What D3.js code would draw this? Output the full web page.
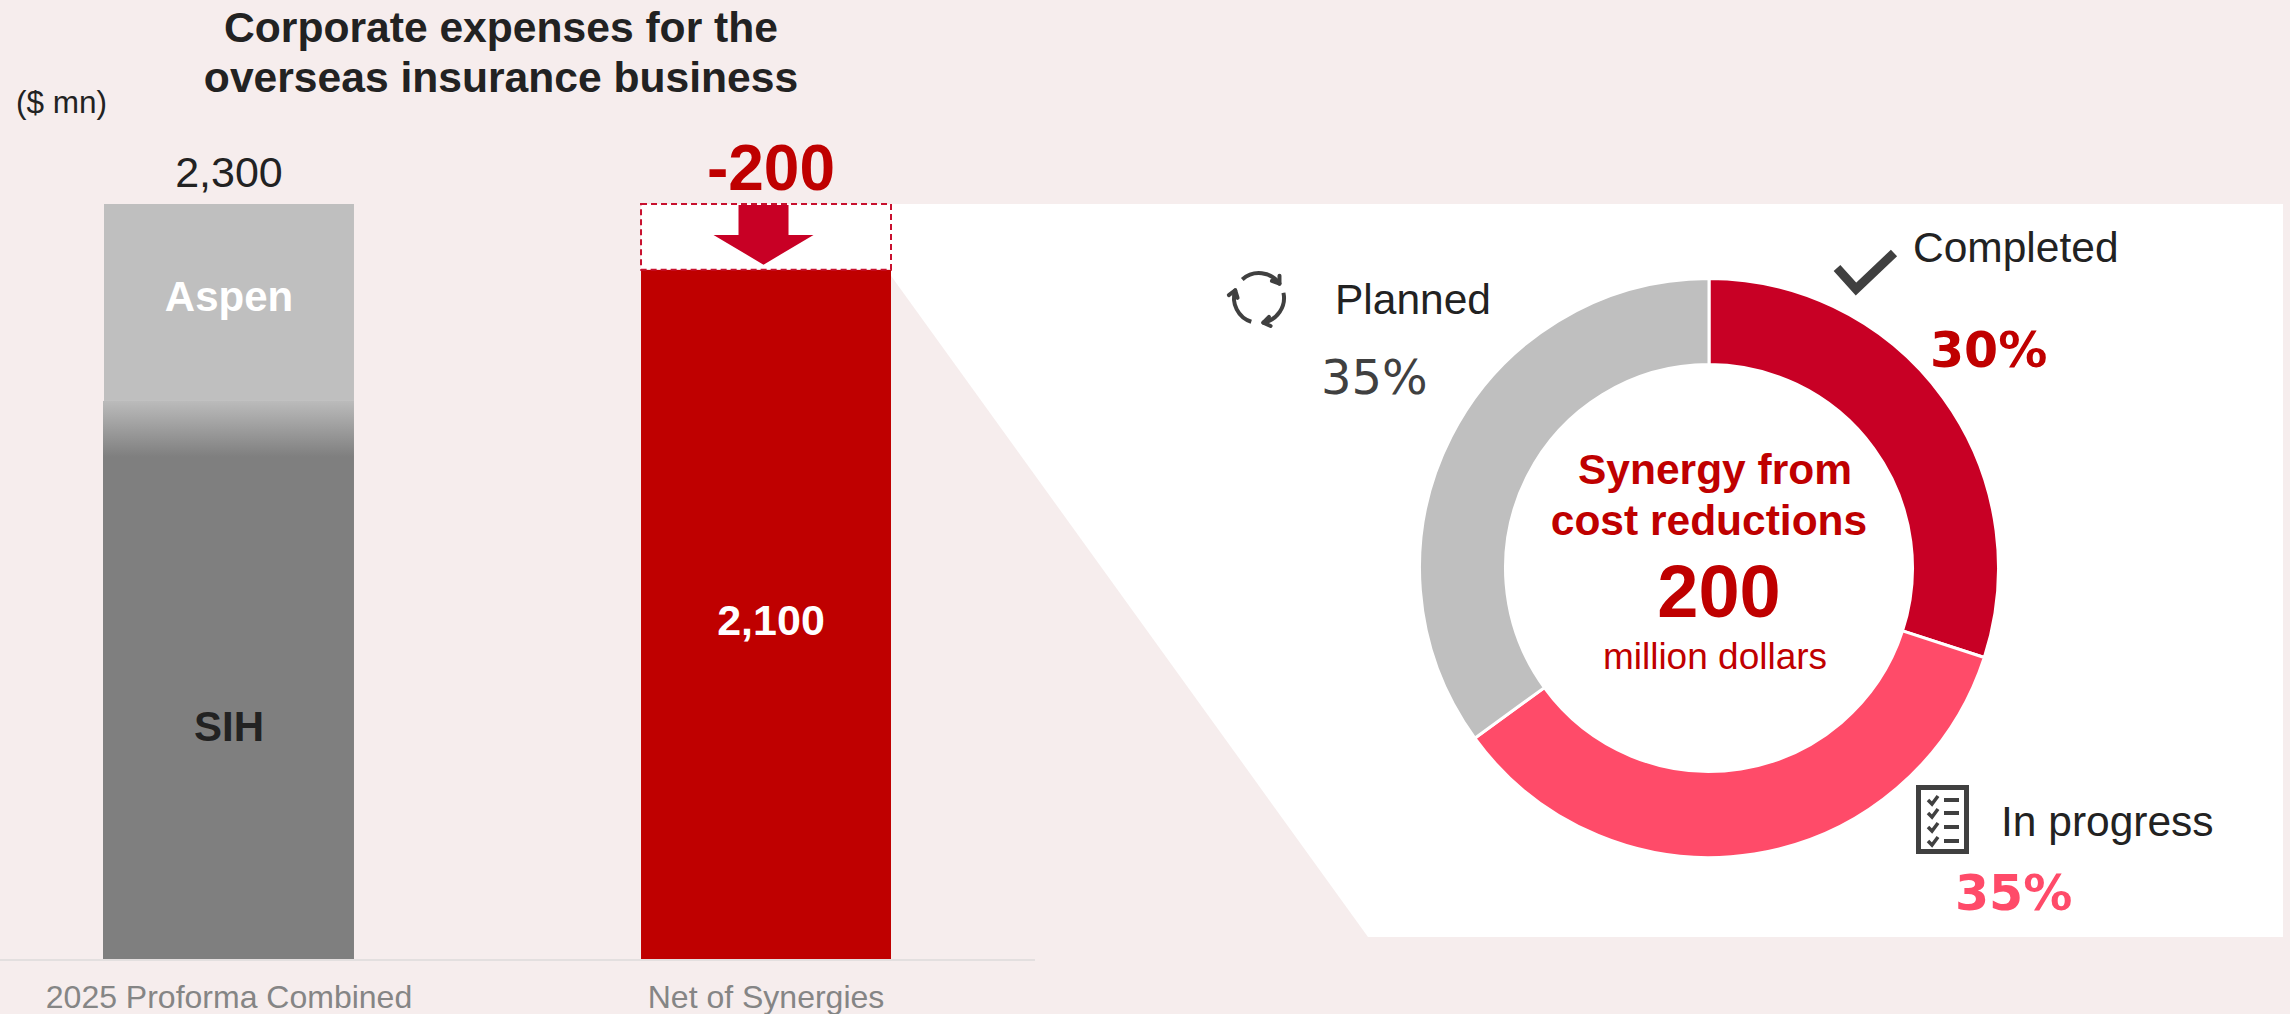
<!DOCTYPE html>
<html>
<head>
<meta charset="utf-8">
<script src="https://cdn.jsdelivr.net/npm/d3@7/dist/d3.min.js"></script>
<style>
html,body{margin:0;padding:0;background:#f6eded;}
svg{display:block;}
text{font-family:"Liberation Sans",Arial,sans-serif;}
</style>
</head>
<body>
<svg id="chart" width="2290" height="1014"></svg>
<script>
// Expense bars
const barCategories = ["2025 Proforma Combined", "Net of Synergies"];
const sihExpense = [1700];
const aspenExpense = [600];
const netExpense = [2100];
const synergyAmount = [200];
// Progress of the cost reductions
const statusNames = ["Completed", "In progress", "Planned"];
const statusShares = [30, 35, 35];
const statusColors = ["#c80025", "#ff4b69", "#bfbfbf"];

const combinedTotal = sihExpense[0] + aspenExpense[0];
const svg = d3.select("#chart");
const fmt = d3.format(",");

const x = d3.scaleBand().domain(barCategories).range([104, 891]).paddingInner(0.5345).paddingOuter(0);
const y = d3.scaleLinear().domain([0, combinedTotal]).range([959, 204]);
const bw = x.bandwidth();
const x0 = x(barCategories[0]);
const x1 = x(barCategories[1]);

function label(txt, px, py, size, opts = {}) {
  return svg.append("text")
    .attr("x", px).attr("y", py)
    .attr("font-size", size)
    .attr("font-weight", opts.bold ? 700 : 400)
    .attr("fill", opts.fill || "#222222")
    .attr("text-anchor", opts.anchor || "middle")
    .style("font-family", opts.family || null)
    .text(txt);
}

// White callout panel behind the donut, joined to the synergy slice of the bar
svg.append("path")
  .attr("d", d3.line()([
    [x1 + bw, y(combinedTotal)], [2283, y(combinedTotal)], [2283, 937], [1368, 937],
    [x1 + bw, y(netExpense[0]) + 6]
  ]) + "Z")
  .attr("fill", "#ffffff");

// Stacked bar: SIH fades up into the Aspen segment
const defs = svg.append("defs");
const fade = defs.append("linearGradient").attr("id", "sihFade")
  .attr("x1", 0).attr("x2", 0).attr("y1", 0).attr("y2", 1);
fade.append("stop").attr("offset", "0%").attr("stop-color", "#bbbbbb");
fade.append("stop").attr("offset", "10%").attr("stop-color", "#7f7f7f");
fade.append("stop").attr("offset", "100%").attr("stop-color", "#7f7f7f");

svg.append("rect").attr("x", x0).attr("width", bw)
  .attr("y", y(combinedTotal)).attr("height", y(sihExpense[0]) - y(combinedTotal))
  .attr("fill", "#bfbfbf");
svg.append("rect").attr("x", x0 - 1).attr("width", bw + 1)
  .attr("y", y(sihExpense[0])).attr("height", y(0) - y(sihExpense[0]))
  .attr("fill", "url(#sihFade)");

// Net bar and the dashed slice removed from it
svg.append("rect").attr("x", x1).attr("width", bw)
  .attr("y", y(netExpense[0])).attr("height", y(0) - y(netExpense[0]))
  .attr("fill", "#bf0000");
svg.append("rect").attr("x", x1).attr("width", bw)
  .attr("y", y(combinedTotal)).attr("height", y(netExpense[0]) - y(combinedTotal))
  .attr("fill", "#ffffff")
  .attr("stroke", "#c8102e").attr("stroke-width", 2).attr("stroke-dasharray", "6 4");

// Down arrow inside the slice
const ax = x1 + bw * 0.49;
const aTop = y(combinedTotal) + 1;
const aTip = y(netExpense[0]) - 5;
const aNeck = aTop + 30;
svg.append("path")
  .attr("d", d3.line()([
    [ax - 25, aTop], [ax + 25, aTop], [ax + 25, aNeck], [ax + 50, aNeck],
    [ax, aTip], [ax - 50, aNeck], [ax - 25, aNeck]
  ]) + "Z")
  .attr("fill", "#c80025");

// Baseline and category labels
svg.append("line").attr("x1", 0).attr("x2", 1035).attr("y1", 960).attr("y2", 960)
  .attr("stroke", "#e3dfdf").attr("stroke-width", 2);
const axisG = svg.append("g").attr("transform", "translate(0,959)")
  .call(d3.axisBottom(x).tickSize(0).tickPadding(26));
axisG.select(".domain").remove();
axisG.selectAll("text")
  .attr("font-size", 32)
  .attr("fill", "#858585")
  .style("font-family", '"Liberation Sans",Arial,sans-serif');

// Titles and bar labels
label("Corporate expenses for the", 501, 42, 42.6, { bold: true });
label("overseas insurance business", 501, 92, 42.6, { bold: true });
label("($ mn)", 16, 113, 31.5, { anchor: "start" });
label(fmt(combinedTotal), x0 + bw / 2, 187, 43);
label("-" + fmt(synergyAmount[0]), 771, 190, 64, { bold: true, fill: "#bf0000" });
label("Aspen", x0 + bw / 2, 311, 42, { bold: true, fill: "#ffffff" });
label("SIH", x0 + bw / 2, 741, 42, { bold: true });
label(fmt(netExpense[0]), 771, 635, 43, { bold: true, fill: "#ffffff" });

// Donut of synergy progress
const cx = 1709, cy = 568;
const pie = d3.pie().sort(null)(statusShares);
const arc = d3.arc().innerRadius(203.5).outerRadius(289.5);
svg.append("g").attr("transform", `translate(${cx},${cy})`)
  .selectAll("path").data(pie).join("path")
  .attr("d", arc)
  .attr("fill", (d, i) => statusColors[i])
  .attr("stroke", "#ffffff").attr("stroke-width", 3);

// Centre of the donut
label("Synergy from", 1715, 484, 42.5, { bold: true, fill: "#bf0000" });
label("cost reductions", 1709, 535, 42.5, { bold: true, fill: "#bf0000" });
label(fmt(synergyAmount[0]), 1719, 617, 74, { bold: true, fill: "#bf0000" });
label("million dollars", 1715, 669, 37, { fill: "#c00000" });

// Status labels
const pctFont = '"DejaVu Sans",sans-serif';
label(statusNames[0], 1913, 262, 42.5, { anchor: "start" });
label(statusNames[1], 2001, 836, 42.5, { anchor: "start" });
label(statusNames[2], 1335, 314, 42.5, { anchor: "start" });
label(statusShares[0] + "%", 1930, 367, 49, { anchor: "start", bold: true, fill: "#c00000", family: pctFont });
label(statusShares[1] + "%", 1955, 910, 49, { anchor: "start", bold: true, fill: "#ff4b69", family: pctFont });
label(statusShares[2] + "%", 1321, 394, 48, { anchor: "start", fill: "#404040", family: pctFont });

// Check mark icon
svg.append("path")
  .attr("d", d3.line()([[1837, 268], [1856, 289], [1894, 253]]))
  .attr("fill", "none").attr("stroke", "#404040").attr("stroke-width", 9);

// Cycle icon: three arcs, each ending in a small arrow head
const cycle = svg.append("g").attr("transform", "translate(1259,298)")
  .attr("fill", "none").attr("stroke", "#404040").attr("stroke-width", 4).attr("stroke-linecap", "round");
const rad = d => d * Math.PI / 180;
[[-42, 55], [78, 170], [198, 288]].forEach(([a, b]) => {
  cycle.append("path").attr("d", d3.arc().innerRadius(25).outerRadius(25).startAngle(rad(a)).endAngle(rad(b))());
  const px = 25 * Math.sin(rad(b)), py = -25 * Math.cos(rad(b));
  const dir = rad(b) + Math.PI / 2;
  [145, -145].forEach(off => {
    const t = dir + rad(off);
    cycle.append("line").attr("x1", px).attr("y1", py)
      .attr("x2", px + 8 * Math.sin(t)).attr("y2", py - 8 * Math.cos(t));
  });
});

// Checklist icon
const list = svg.append("g").attr("transform", "translate(1916,785)");
list.append("rect").attr("x", 2.5).attr("y", 2.5).attr("width", 48).attr("height", 64)
  .attr("fill", "#ffffff").attr("stroke", "#404040").attr("stroke-width", 5);
[15, 28, 42, 56].forEach(r => {
  list.append("path").attr("d", d3.line()([[12, r], [16, r + 4], [22, r - 4]]))
    .attr("fill", "none").attr("stroke", "#404040").attr("stroke-width", 3.5);
  list.append("rect").attr("x", 28).attr("y", r - 2).attr("width", 15).attr("height", 4).attr("fill", "#404040");
});
</script>
</body>
</html>
